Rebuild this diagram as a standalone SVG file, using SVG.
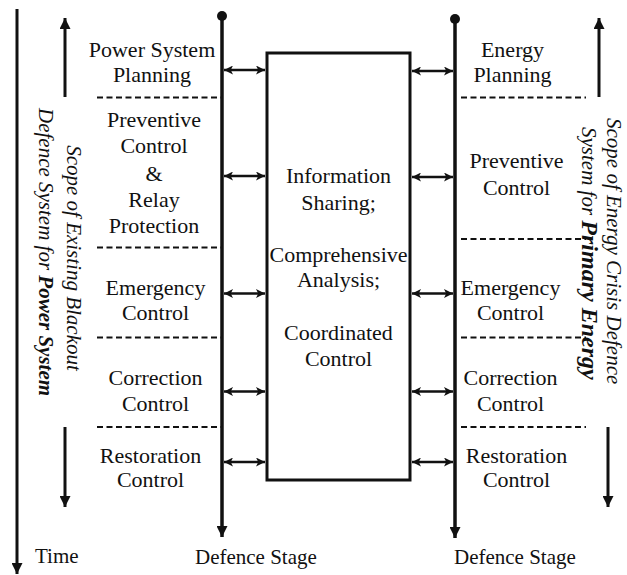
<svg xmlns="http://www.w3.org/2000/svg" width="627" height="575" viewBox="0 0 627 575">
<style>
text{font-family:"Liberation Serif","Times New Roman",serif;fill:#111;}
.lbl{font-size:22px;text-anchor:middle;}
.bot{font-size:21px;}
.vt{font-size:21px;font-style:italic;text-anchor:middle;}
.vs{font-size:21px;font-style:italic;text-anchor:start;}
.b{font-weight:bold;}
.axis{stroke:#111;stroke-width:3;fill:none;}
.stage{stroke:#111;stroke-width:3.5;fill:none;}
.dash{stroke:#111;stroke-width:2;stroke-dasharray:6,3.5;fill:none;}
.dbl{stroke:#111;stroke-width:2.5;fill:none;marker-start:url(#ah);marker-end:url(#ah);}
.box{stroke:#111;stroke-width:3;fill:#fff;}
</style>
<defs>
<marker id="ah" markerUnits="userSpaceOnUse" viewBox="0 0 10 10" refX="10" refY="5" markerWidth="9" markerHeight="9" orient="auto-start-reverse"><path d="M0,0 L10,5 L0,10 L2.5,5 Z" fill="#111"/></marker>
<marker id="big" markerUnits="userSpaceOnUse" viewBox="0 0 10 10" refX="10" refY="5" markerWidth="11" markerHeight="11" orient="auto"><path d="M0,0 L10,5 L0,10 Z" fill="#111"/></marker>
</defs>

<g id="connectors">
<line class="axis" x1="17" y1="9" x2="17" y2="574" marker-end="url(#big)"/>
<line class="axis" x1="65" y1="97" x2="65" y2="18" marker-end="url(#big)"/>
<line class="axis" x1="65" y1="427" x2="65" y2="507" marker-end="url(#big)"/>
<line class="axis" x1="599" y1="97" x2="599" y2="18" marker-end="url(#big)"/>
<line class="axis" x1="608" y1="427" x2="608" y2="507" marker-end="url(#big)"/>
<line class="stage" x1="222" y1="16" x2="222" y2="537" marker-end="url(#big)"/>
<circle cx="222" cy="16" r="5" fill="#111"/>
<line class="stage" x1="455" y1="19" x2="455" y2="538" marker-end="url(#big)"/>
<circle cx="455" cy="19" r="5" fill="#111"/>
<line class="dash" x1="97" y1="97.5" x2="221" y2="97.5"/>
<line class="dash" x1="97" y1="247.5" x2="221" y2="247.5"/>
<line class="dash" x1="97" y1="337.5" x2="221" y2="337.5"/>
<line class="dash" x1="97" y1="427" x2="221" y2="427"/>
<line class="dash" x1="461" y1="97.5" x2="586" y2="97.5"/>
<line class="dash" x1="461" y1="239" x2="586" y2="239"/>
<line class="dash" x1="461" y1="337.5" x2="586" y2="337.5"/>
<line class="dash" x1="461" y1="427" x2="586" y2="427"/>
<line class="dbl" x1="224" y1="70" x2="265" y2="70"/>
<line class="dbl" x1="224" y1="176" x2="265" y2="176"/>
<line class="dbl" x1="224" y1="293.5" x2="265" y2="293.5"/>
<line class="dbl" x1="224" y1="391.5" x2="265" y2="391.5"/>
<line class="dbl" x1="224" y1="462" x2="265" y2="462"/>
<line class="dbl" x1="412" y1="71" x2="453" y2="71"/>
<line class="dbl" x1="412" y1="177" x2="453" y2="177"/>
<line class="dbl" x1="412" y1="293.5" x2="453" y2="293.5"/>
<line class="dbl" x1="412" y1="391.5" x2="453" y2="391.5"/>
<line class="dbl" x1="412" y1="462" x2="453" y2="462"/>
</g>

<g id="center-box">
<rect class="box" x="267" y="53" width="143" height="427"/>
<text class="lbl"><tspan x="338.5" y="183">Information</tspan><tspan x="338.5" y="210">Sharing;</tspan><tspan x="338.5" y="261.5">Comprehensive</tspan><tspan x="338.5" y="286.5">Analysis;</tspan><tspan x="338.5" y="340">Coordinated</tspan><tspan x="338.5" y="366">Control</tspan></text>
</g>

<g id="left-power-system-planning"><text class="lbl"><tspan x="152" y="57">Power System</tspan><tspan x="152" y="82">Planning</tspan></text></g>
<g id="left-preventive"><text class="lbl"><tspan x="154" y="127">Preventive</tspan><tspan x="154" y="153">Control</tspan><tspan x="154" y="181">&amp;</tspan><tspan x="154" y="207">Relay</tspan><tspan x="154" y="233">Protection</tspan></text></g>
<g id="left-emergency"><text class="lbl"><tspan x="155.5" y="295">Emergency</tspan><tspan x="155.5" y="320">Control</tspan></text></g>
<g id="left-correction"><text class="lbl"><tspan x="155.5" y="385">Correction</tspan><tspan x="155.5" y="411">Control</tspan></text></g>
<g id="left-restoration"><text class="lbl"><tspan x="150.5" y="463">Restoration</tspan><tspan x="150.5" y="487">Control</tspan></text></g>

<g id="right-energy-planning"><text class="lbl"><tspan x="512.5" y="57">Energy</tspan><tspan x="512.5" y="82">Planning</tspan></text></g>
<g id="right-preventive"><text class="lbl"><tspan x="516.5" y="168">Preventive</tspan><tspan x="516.5" y="195">Control</tspan></text></g>
<g id="right-emergency"><text class="lbl"><tspan x="510.5" y="295">Emergency</tspan><tspan x="510.5" y="320">Control</tspan></text></g>
<g id="right-correction"><text class="lbl"><tspan x="510.5" y="385">Correction</tspan><tspan x="510.5" y="411">Control</tspan></text></g>
<g id="right-restoration"><text class="lbl"><tspan x="516.5" y="463">Restoration</tspan><tspan x="516.5" y="487">Control</tspan></text></g>

<g id="time-label"><text class="bot" x="35" y="563">Time</text></g>
<g id="left-stage-label"><text class="bot" x="195" y="564">Defence Stage</text></g>
<g id="right-stage-label"><text class="bot" x="454" y="564">Defence Stage</text></g>

<g id="left-scope">
<text class="vt" transform="translate(67,258) rotate(90)">Scope of Existing Blackout</text>
<text class="vs" transform="translate(38.5,108) rotate(90)">Defence System for <tspan class="b">Power System</tspan></text>
</g>
<g id="right-scope">
<text class="vs" transform="translate(607,118) rotate(90)">Scope of Energy Crisis Defence</text>
<text class="vs" transform="translate(582,127) rotate(90)">System for <tspan class="b" font-size="24">Primary Energy</tspan></text>
</g>
</svg>
